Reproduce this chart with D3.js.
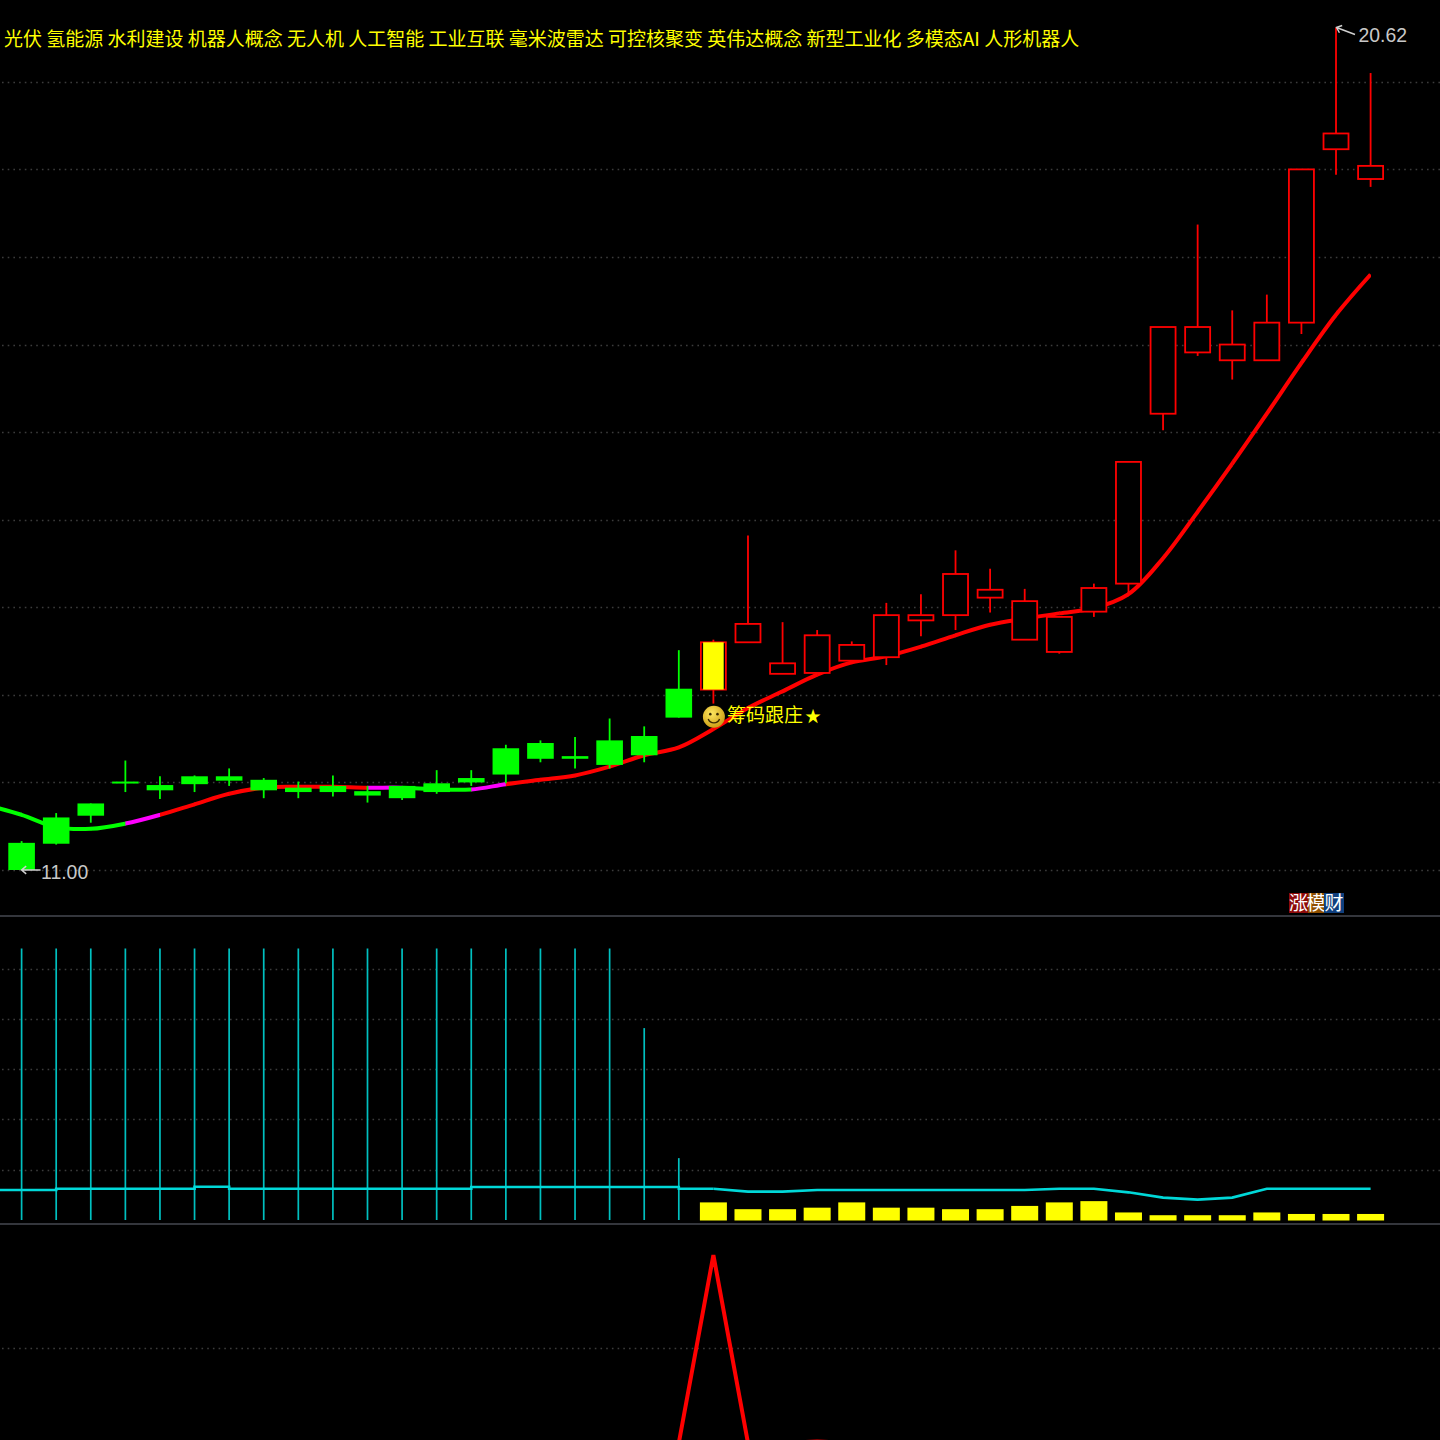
<!DOCTYPE html>
<html><head><meta charset="utf-8">
<script src="https://cdn.jsdelivr.net/npm/d3@7/dist/d3.min.js"></script>
<style>html,body{margin:0;padding:0;background:#000;overflow:hidden}svg{display:block}</style>
</head><body><svg id="c" width="1440" height="1440"></svg>
<script>
const conceptTags = ["光伏","氢能源","水利建设","机器人概念","无人机","人工智能","工业互联","毫米波雷达","可控核聚变","英伟达概念","新型工业化","多模态AI","人形机器人"];
const opens  = [11.31,11.60,11.76,12.01,11.97,12.07,12.07,12.03,11.94,11.96,11.90,11.96,11.99,12.05,12.39,12.45,12.30,12.48,12.53,13.07,13.06,13.60,13.24,13.25,13.39,13.43,13.85,13.91,14.11,13.63,13.49,13.95,14.27,16.21,16.91,16.82,16.82,17.25,19.23,18.89];
const closes = [11.00,11.30,11.62,11.99,11.91,11.98,12.02,11.91,11.89,11.89,11.85,11.82,11.89,12.00,12.09,12.27,12.27,12.20,12.31,12.74,13.60,13.81,13.36,13.68,13.57,13.91,13.91,14.38,14.20,14.07,13.89,14.22,15.66,17.20,17.20,17.00,17.25,19.00,19.41,19.04];
const highs  = [11.33,11.65,11.76,12.25,12.07,12.08,12.16,12.05,12.01,12.08,11.96,11.96,12.14,12.14,12.43,12.48,12.52,12.73,12.64,13.51,13.63,14.82,13.83,13.74,13.61,14.05,14.15,14.65,14.44,14.21,13.89,14.27,15.66,17.20,18.37,17.39,17.57,19.00,20.62,20.10];
const lows   = [11.00,11.29,11.54,11.89,11.81,11.89,11.96,11.82,11.82,11.84,11.77,11.80,11.87,11.96,11.99,12.23,12.16,12.16,12.23,12.74,12.90,13.60,13.24,13.25,13.39,13.34,13.67,13.74,13.94,13.63,13.47,13.89,14.16,16.02,16.87,16.60,16.82,17.12,18.94,18.80];
const maLead = 11.74;
const maLine = [11.63,11.49,11.47,11.53,11.63,11.75,11.87,11.94,11.95,11.95,11.94,11.94,11.92,11.92,11.98,12.03,12.08,12.18,12.31,12.40,12.61,12.85,13.04,13.23,13.37,13.44,13.55,13.68,13.80,13.87,13.93,13.99,14.15,14.56,15.09,15.64,16.21,16.79,17.34,17.80];
const maColours = ["#00ff00","#00ff00","#00ff00","#00ff00","#ff00ff","#ff0000","#ff0000","#ff0000","#ff0000","#ff0000","#ff0000","#ff00ff","#00ff00","#00ff00","#ff00ff"];
const priceGrid = [11,12,13,14,15,16,17,18,19,20];
const stems = [108,108,108,108,108,108,108,108,108,108,108,108,108,108,108,108,108,108,76.3,24.6];
const tealLeft = [11.9,12.4,12.4,12.4,12.4,13.2,12.4,12.4,12.4,12.4,12.4,12.4,12.4,13.1,13.1,13.1,13.1,13.1,13.1,12.4,12.4];
const tealRight = [12.4,11.3,11.3,11.9,11.9,11.9,11.9,11.9,11.9,11.9,12.4,12.4,11,8.9,8.1,8.9,12.4,12.4,12.4,12.4];
const yellowBars = [7,4.3,4.3,4.9,7,4.9,4.9,4.3,4.3,5.6,7,7.5,3,1.9,1.9,1.9,3,2.4,2.4,2.4];
const midGrid = [20,40,60,80,100];
const lowerLine = [0,100,0,0,0.8,0,0,0,0,0,0,0,0,0,0,0,0,0,0,0,0];
const lowerGrid = [50.5];
const signalIndex = 20;
const signalText = "筹码跟庄", signalStar = "★";
const lowLabel = "11.00", highLabel = "20.62";
const logoChars = ["涨","模","财"];

const svg = d3.select("#c");
const x = d3.scaleLinear().domain([0,39]).range([21.6,1370.6]);
const y = d3.scaleLinear().domain([11,20]).range([870,81.8]);
const yMid = d3.scaleLinear().domain([0,100]).range([1220,968.5]);
const yLow = d3.scaleLinear().domain([0,100]).range([1443,1255]);
const BODY = 25, CJK = '"Noto Sans CJK SC","Noto Sans",sans-serif';

svg.append("rect").attr("width",1440).attr("height",1440).attr("fill","#000");

function grid(vals, scale){
  svg.append("g").selectAll("line").data(vals).join("line")
    .attr("x1",2).attr("x2",1440).attr("y1",d=>Math.round(scale(d))+.5).attr("y2",d=>Math.round(scale(d))+.5)
    .attr("stroke","#3c3c3c").attr("stroke-width",1.4).attr("stroke-dasharray","1.6 4.1");
}
grid(priceGrid,y); grid(midGrid,yMid); grid(lowerGrid,yLow);

svg.append("g").selectAll("rect").data([915,1223]).join("rect")
  .attr("x",0).attr("width",1440).attr("y",d=>d).attr("height",2).attr("fill","#34363c");

// moving average: one smooth curve, coloured per interval through clip rects
const maPts = [[-1,maLead]].concat(maLine.map((v,i)=>[i,v]));
const maPath = d3.line().curve(d3.curveCatmullRom.alpha(.5)).x(d=>x(d[0])).y(d=>y(d[1]))(maPts);
const defs = svg.append("defs");
const maG = svg.append("g").attr("fill","none").attr("stroke-width",4);
for(let i=0;i<maPts.length-1;i++){
  const x0 = x(maPts[i][0]), x1 = x(maPts[i+1][0]);
  defs.append("clipPath").attr("id","ma"+i).append("rect").attr("x",x0).attr("width",x1-x0+.5).attr("y",0).attr("height",915);
  maG.append("path").attr("d",maPath).attr("stroke",maColours[i]||"#ff0000").attr("clip-path",`url(#ma${i})`);
}

// candles
const candleG = svg.append("g").selectAll("g").data(opens.map((o,i)=>({i,o,c:closes[i],h:highs[i],l:lows[i]}))).join("g");
candleG.each(function(d){
  const g = d3.select(this), up = d.c>d.o, col = up?"#ff0000":"#00ff00";
  const top = y(Math.max(d.o,d.c)), bot = y(Math.min(d.o,d.c)), cx = x(d.i);
  g.append("line").attr("x1",cx).attr("x2",cx).attr("y1",y(d.h)).attr("y2",y(d.l)).attr("stroke",col).attr("stroke-width",1.8);
  if(up){
    g.append("rect").attr("x",cx-BODY/2).attr("width",BODY).attr("y",top).attr("height",bot-top)
      .attr("fill","#000").attr("stroke",col).attr("stroke-width",1.8);
  } else {
    g.append("rect").attr("x",cx-BODY/2-.8).attr("width",BODY+1.6).attr("y",top).attr("height",Math.max(bot-top,2)).attr("fill",col);
  }
  if(d.i===signalIndex){
    g.append("rect").attr("x",cx-10.3).attr("width",20.6).attr("y",top).attr("height",bot-top).attr("fill","#ffff00");
  }
});

// middle panel
svg.append("g").selectAll("line").data(stems).join("line")
  .attr("x1",(d,i)=>x(i)).attr("x2",(d,i)=>x(i)).attr("y1",d=>yMid(d)).attr("y2",yMid(0))
  .attr("stroke","#00c0c0").attr("stroke-width",1.7);
const leftPts = [[-1,tealLeft[0]]].concat(tealLeft.map((v,i)=>[i,v]));
svg.append("path").attr("fill","none").attr("stroke","#00d8d8").attr("stroke-width",2.6)
  .attr("d",d3.line().curve(d3.curveStepAfter).x(d=>x(d[0])).y(d=>yMid(d[1]))(leftPts));
svg.append("path").attr("fill","none").attr("stroke","#00d8d8").attr("stroke-width",2.6)
  .attr("d",d3.line().x((d,i)=>x(i+signalIndex)).y(d=>yMid(d))(tealRight));
svg.append("g").selectAll("rect").data(yellowBars).join("rect")
  .attr("x",(d,i)=>x(i+signalIndex)-13.5).attr("width",27)
  .attr("y",d=>yMid(d)).attr("height",d=>yMid(0)-yMid(d)+.5).attr("fill","#ffff00");

// lower panel
svg.append("path").attr("fill","none").attr("stroke","#ff0000").attr("stroke-width",4).attr("stroke-linejoin","miter")
  .attr("d",d3.line().x((d,i)=>x(i+19)).y(d=>yLow(d))(lowerLine));

// header
svg.append("text").attr("x",4).attr("y",46).attr("fill","#ffff00")
  .attr("font-family",CJK).attr("font-size",19)
  .text(conceptTags.join(" "));

// signal marker
const sx = x(signalIndex)+0.5, sy = y(closes[signalIndex]-0.85);
const grad = defs.append("radialGradient").attr("id","sm").attr("cx","40%").attr("cy","35%").attr("r","70%");
grad.append("stop").attr("offset","0%").attr("stop-color","#ffe860");
grad.append("stop").attr("offset","100%").attr("stop-color","#c99a10");
const smile = svg.append("g").attr("transform",`translate(${sx},${sy})`);
smile.append("circle").attr("r",11).attr("fill","url(#sm)");
smile.append("circle").attr("cx",-3.6).attr("cy",-2.6).attr("r",1.3).attr("fill","#3a2a00");
smile.append("circle").attr("cx",3.6).attr("cy",-2.6).attr("r",1.3).attr("fill","#3a2a00");
smile.append("path").attr("d",d3.arc()({innerRadius:5.4,outerRadius:6.8,startAngle:Math.PI*0.62,endAngle:Math.PI*1.38})).attr("fill","#3a2a00");
const sigText = svg.append("text").attr("x",sx+13).attr("y",sy+5.5).attr("fill","#ffff00")
  .attr("font-family",CJK).attr("font-size",19);
sigText.append("tspan").text(signalText);
sigText.append("tspan").attr("dx",2).attr("font-size",16).text(signalStar);

// low and high labels
function priceLabel(tipX,tipY,endX,endY,textX,textY,label){
  const g = svg.append("g").attr("fill","none").attr("stroke","#d0d0d0").attr("stroke-width",1.5);
  const a = Math.atan2(endY-tipY,endX-tipX), L=6;
  g.append("path").attr("d",`M${endX},${endY}L${tipX},${tipY}M${tipX+L*Math.cos(a-.7)},${tipY+L*Math.sin(a-.7)}L${tipX},${tipY}L${tipX+L*Math.cos(a+.7)},${tipY+L*Math.sin(a+.7)}`);
  svg.append("text").attr("x",textX).attr("y",textY).attr("fill","#c8c8c8")
    .attr("font-family",'"Liberation Sans",sans-serif').attr("font-size",19.4).text(label);
}
priceLabel(x(0),y(11),x(0)+19,y(11),x(0)+19.5,y(11)+8.5,lowLabel);
priceLabel(x(38)+.5,y(20.62),x(38)+19,y(20.62)+7,x(38)+22.5,y(20.62)+14,highLabel);

// logo
const logoX = d3.scaleOrdinal().domain(logoChars).range([1289,1308,1324]);
const logoW = d3.scaleOrdinal().domain(logoChars).range([19,16,20]);
const logoC = d3.scaleOrdinal().domain(logoChars).range(["#8c0a0a","#8f4f00","#0f3f7e"]);
const logo = svg.append("g").selectAll("g").data(logoChars).join("g");
logo.append("rect").attr("x",d=>logoX(d)).attr("y",893).attr("width",d=>logoW(d)).attr("height",20).attr("fill",d=>logoC(d));
logo.append("text").attr("x",d=>logoX(d)+logoW(d)/2).attr("y",910).attr("text-anchor","middle")
  .attr("fill","#fff").attr("font-family",CJK).attr("font-size",19).text(d=>d);
</script></body></html>
